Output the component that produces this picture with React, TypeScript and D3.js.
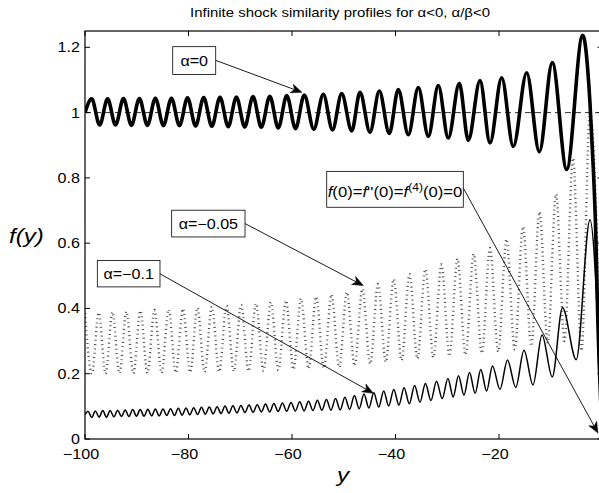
import React from 'react';
import * as d3 from 'd3';

const W = 599;
const H = 493;

const xDomain: [number, number] = [-100, 0];
const yDomain: [number, number] = [0, 1.25];
const xTicks = [-100, -80, -60, -40, -20, 0];
const xTickLabels = ['\u2212100', '\u221280', '\u221260', '\u221240', '\u221220', ''];
const yTicks = [0, 0.2, 0.4, 0.6, 0.8, 1, 1.2];
const yTickLabels = ['0', '0.2', '0.4', '0.6', '0.8', '1', '1.2'];

const titleText = 'Infinite shock similarity profiles for \u03b1<0, \u03b1/\u03b2<0';
const referenceLevel = 1;

// extrema of alpha = 0 (thick solid), [y, f(y)]
const alpha0: [number, number][] = [
  [-100, 1.0],
  [-98.71, 1.042], [-97.17, 0.962],
  [-95.63, 1.042], [-94.10, 0.962],
  [-92.56, 1.043], [-91.03, 0.961],
  [-89.49, 1.043], [-87.95, 0.961],
  [-86.40, 1.044], [-84.85, 0.960],
  [-83.30, 1.044], [-81.75, 0.960],
  [-80.19, 1.045], [-78.63, 0.959],
  [-77.06, 1.046], [-75.49, 0.958],
  [-73.91, 1.047], [-72.33, 0.957],
  [-70.74, 1.048], [-69.14, 0.956],
  [-67.54, 1.049], [-65.92, 0.955],
  [-64.29, 1.050], [-62.65, 0.953],
  [-61.01, 1.052], [-59.32, 0.951],
  [-57.62, 1.054], [-55.79, 0.949],
  [-53.95, 1.056], [-52.18, 0.947],
  [-50.40, 1.058], [-48.46, 0.944],
  [-46.86, 1.062], [-44.93, 0.940],
  [-43.13, 1.066], [-41.20, 0.936],
  [-39.46, 1.071], [-37.53, 0.932],
  [-35.59, 1.077], [-33.66, 0.927],
  [-31.73, 1.083], [-29.80, 0.922],
  [-27.67, 1.090], [-25.93, 0.915],
  [-23.67, 1.098], [-21.74, 0.907],
  [-19.48, 1.107], [-17.24, 0.896],
  [-14.65, 1.122], [-12.21, 0.880],
  [-9.70, 1.153], [-6.92, 0.826],
  [-3.83, 1.237],
  [-2.42, 1.03], [-1.78, 0.83], [-1.32, 0.64], [-0.9, 0.36], [0, 0],
];

// extrema of alpha = -0.05 (dotted)
const alpha005: [number, number][] = [
  [-100, 0.386],
  [-98.68, 0.200],
  [-97.35, 0.387], [-96.02, 0.200],
  [-94.69, 0.389], [-93.35, 0.201],
  [-92.00, 0.391], [-90.65, 0.201],
  [-89.29, 0.393], [-87.93, 0.202],
  [-86.57, 0.395], [-85.20, 0.202],
  [-83.83, 0.397], [-82.45, 0.203],
  [-81.06, 0.399], [-79.67, 0.204],
  [-78.28, 0.402], [-76.88, 0.205],
  [-75.48, 0.405], [-74.07, 0.206],
  [-72.66, 0.408], [-71.24, 0.207],
  [-69.82, 0.411], [-68.39, 0.208],
  [-66.96, 0.415], [-65.52, 0.209],
  [-64.08, 0.419], [-62.63, 0.211],
  [-61.18, 0.424], [-59.72, 0.213],
  [-58.26, 0.430], [-56.79, 0.215],
  [-55.32, 0.436], [-53.85, 0.217],
  [-52.37, 0.443], [-50.88, 0.220],
  [-49.39, 0.450], [-47.90, 0.224],
  [-46.40, 0.460], [-44.89, 0.230],
  [-43.38, 0.475], [-41.87, 0.236],
  [-40.35, 0.490], [-38.82, 0.241],
  [-37.29, 0.505], [-35.76, 0.246],
  [-34.22, 0.520], [-32.68, 0.250],
  [-31.13, 0.535], [-29.58, 0.254],
  [-28.02, 0.552], [-26.46, 0.258],
  [-24.89, 0.567], [-23.32, 0.263],
  [-21.74, 0.585], [-20.15, 0.268],
  [-18.55, 0.612], [-16.96, 0.275],
  [-15.36, 0.650], [-13.77, 0.285],
  [-12.17, 0.695], [-10.58, 0.295],
  [-8.99, 0.750], [-7.35, 0.300],
  [-5.70, 0.860], [-4.06, 0.270],
  [-2.42, 1.000],
  [0, 0],
];

// extrema of alpha = -0.1 (thin solid)
const alpha01: [number, number][] = [
  [-100, 0.075],
  [-99.42, 0.085], [-98.71, 0.066],
  [-97.99, 0.086], [-97.28, 0.067],
  [-96.56, 0.087], [-95.85, 0.067],
  [-95.13, 0.087], [-94.41, 0.068],
  [-93.68, 0.088], [-92.96, 0.069],
  [-92.23, 0.089], [-91.51, 0.069],
  [-90.78, 0.090], [-90.06, 0.070],
  [-89.33, 0.090], [-88.60, 0.070],
  [-87.86, 0.091], [-87.13, 0.071],
  [-86.40, 0.092], [-85.67, 0.071],
  [-84.93, 0.092], [-84.20, 0.072],
  [-83.46, 0.093], [-82.72, 0.072],
  [-81.97, 0.094], [-81.23, 0.073],
  [-80.48, 0.095], [-79.74, 0.074],
  [-79.00, 0.096], [-78.25, 0.075],
  [-77.49, 0.097], [-76.74, 0.076],
  [-75.98, 0.098], [-75.23, 0.077],
  [-74.47, 0.099], [-73.71, 0.078],
  [-72.95, 0.101], [-72.19, 0.079],
  [-71.42, 0.102], [-70.65, 0.080],
  [-69.87, 0.103], [-69.09, 0.081],
  [-68.31, 0.104], [-67.52, 0.082],
  [-66.72, 0.105], [-65.92, 0.083],
  [-65.12, 0.107], [-64.31, 0.083],
  [-63.50, 0.109], [-62.68, 0.084],
  [-61.85, 0.110], [-61.02, 0.085],
  [-60.19, 0.112], [-59.35, 0.086],
  [-58.51, 0.114], [-57.66, 0.086],
  [-56.81, 0.116], [-55.95, 0.087],
  [-55.09, 0.119], [-54.22, 0.088],
  [-53.35, 0.121], [-52.47, 0.088],
  [-51.59, 0.124], [-50.69, 0.089],
  [-49.78, 0.128], [-48.86, 0.091],
  [-47.94, 0.133], [-47.02, 0.093],
  [-46.09, 0.138], [-45.14, 0.095],
  [-44.19, 0.142], [-43.24, 0.098],
  [-42.28, 0.147], [-41.31, 0.101],
  [-40.33, 0.152], [-39.34, 0.104],
  [-38.34, 0.157], [-37.33, 0.108],
  [-36.31, 0.164], [-35.27, 0.113],
  [-34.22, 0.170], [-33.15, 0.118],
  [-32.08, 0.177], [-30.98, 0.124],
  [-29.87, 0.185], [-28.85, 0.129],
  [-27.83, 0.194], [-26.77, 0.134],
  [-25.70, 0.204], [-24.61, 0.140],
  [-23.52, 0.213], [-22.39, 0.147],
  [-21.26, 0.224], [-19.81, 0.152],
  [-18.36, 0.242], [-16.77, 0.158],
  [-15.17, 0.272], [-13.43, 0.166],
  [-11.69, 0.319], [-9.71, 0.190],
  [-7.73, 0.402], [-5.08, 0.243],
  [-2.42, 0.672],
  [0, 0],
];

// annotation boxes (data coords): [yLeft, yRight, fBottom, fTop]
const labelTexts = ['\u03b1=0', '\u03b1=\u22120.05', '\u03b1=\u22120.1'];
const labelBoxes: [number, number, number, number][] = [
  [-83.05, -74.74, 1.117, 1.202],
  [-83.25, -69.08, 0.619, 0.701],
  [-97.62, -85.51, 0.466, 0.547],
];
// arrows (data coords): [yStart, fStart, yEnd, fEnd]
const labelArrows: [number, number, number, number][] = [
  [-74.74, 1.160, -58.07, 1.062],
  [-69.08, 0.660, -46.22, 0.470],
  [-85.51, 0.506, -44.29, 0.140],
];
const condBox: [number, number, number, number] = [-53.29, -26.90, 0.710, 0.820];
const condArrow: [number, number, number, number] = [-26.90, 0.769, -0.87, 0.018];

const FONT = '"Liberation Sans", Arial, Helvetica, sans-serif';
const SX = 1.15;

function STxt(props: {
  x: number; y: number; size: number; anchor?: string; italic?: boolean; children: React.ReactNode;
}) {
  const { x, y, size, anchor, italic, children } = props;
  return (
    <text
      transform={`translate(${x},${y}) scale(${SX},1)`}
      textAnchor={anchor || 'start'}
      fontSize={size}
      fontFamily={FONT}
      fontStyle={italic ? 'italic' : 'normal'}
      fill="#000"
    >
      {children}
    </text>
  );
}

function Arrow(props: { x1: number; y1: number; x2: number; y2: number }) {
  const { x1, y1, x2, y2 } = props;
  const dx = x2 - x1;
  const dy = y2 - y1;
  const len = Math.sqrt(dx * dx + dy * dy);
  const ux = dx / len;
  const uy = dy / len;
  const nx = -uy;
  const ny = ux;
  const L = 11;
  const w = 4.5;
  const bx = x2 - L * ux;
  const by = y2 - L * uy;
  const mx = x2 - 0.72 * L * ux;
  const my = y2 - 0.72 * L * uy;
  const head = `M${x2},${y2}L${bx + w * nx},${by + w * ny}L${mx},${my}L${bx - w * nx},${by - w * ny}Z`;
  return (
    <g>
      <line x1={x1} y1={y1} x2={mx} y2={my} stroke="#000" strokeWidth={0.9} />
      <path d={head} fill="#000" stroke="#000" strokeWidth={0.5} />
    </g>
  );
}

export default function App() {
  const left = 85;
  const right = 602.5;
  const top = 31;
  const bottom = 439;
  const x = d3.scaleLinear().domain(xDomain).range([left, right]);
  const y = d3.scaleLinear().domain(yDomain).range([bottom, top]);

  const line = d3
    .line<[number, number]>()
    .x((d) => x(d[0]))
    .y((d) => y(d[1]))
    .curve(d3.curveMonotoneX);

  const tickLen = 5;

  return (
    <svg
      width={W}
      height={H}
      viewBox={`0 0 ${W} ${H}`}
      style={{ position: 'absolute', left: 0, top: 0, background: '#fff' }}
    >
      <rect x={0} y={0} width={W} height={H} fill="#fff" />
      <defs>
        <clipPath id="plotclip">
          <rect x={left} y={top} width={right - left} height={bottom - top} />
        </clipPath>
      </defs>

      <STxt x={340} y={17} size={13} anchor="middle">{titleText}</STxt>

      <g clipPath="url(#plotclip)">
        <line
          x1={x(xDomain[0])}
          x2={x(xDomain[1])}
          y1={y(referenceLevel)}
          y2={y(referenceLevel)}
          stroke="#000"
          strokeWidth={0.8}
          strokeDasharray="6 4"
        />
        <path
          d={line(alpha005) || ''}
          fill="none"
          stroke="#444"
          strokeWidth={2.4}
          strokeDasharray="0.9 3.4"
        />
        <path d={line(alpha01) || ''} fill="none" stroke="#000" strokeWidth={1.5} />
        <path d={line(alpha0) || ''} fill="none" stroke="#000" strokeWidth={3.6} />
      </g>

      {/* axes box */}
      <rect x={left} y={top} width={right - left} height={bottom - top} fill="none" stroke="#000" strokeWidth={1.2} />

      {/* x ticks */}
      {xTicks.map((t, i) => (
        <g key={'xt' + i}>
          <line x1={x(t)} x2={x(t)} y1={bottom} y2={bottom - tickLen} stroke="#000" strokeWidth={1} />
          <line x1={x(t)} x2={x(t)} y1={top} y2={top + tickLen} stroke="#000" strokeWidth={1} />
          {xTickLabels[i] ? (
            <STxt x={x(t) - 4} y={459} size={14} anchor="middle">{xTickLabels[i]}</STxt>
          ) : null}
        </g>
      ))}

      {/* y ticks */}
      {yTicks.map((t, i) => (
        <g key={'yt' + i}>
          <line x1={left} x2={left + tickLen} y1={y(t)} y2={y(t)} stroke="#000" strokeWidth={1} />
          <line x1={right} x2={right - tickLen} y1={y(t)} y2={y(t)} stroke="#000" strokeWidth={1} />
          <STxt x={80} y={y(t) + 5} size={14} anchor="end">{yTickLabels[i]}</STxt>
        </g>
      ))}

      {/* axis labels */}
      <STxt x={9} y={243} size={21} italic>f(y)</STxt>
      <STxt x={343} y={482} size={21} anchor="middle" italic>y</STxt>

      {/* arrows */}
      {labelArrows.map((a, i) => (
        <Arrow key={'ar' + i} x1={x(a[0])} y1={y(a[1])} x2={x(a[2])} y2={y(a[3])} />
      ))}
      <Arrow x1={x(condArrow[0])} y1={y(condArrow[1])} x2={x(condArrow[2])} y2={y(condArrow[3])} />

      {/* label boxes */}
      {labelBoxes.map((b, i) => {
        const bx0 = x(b[0]);
        const bx1 = x(b[1]);
        const by0 = y(b[3]);
        const by1 = y(b[2]);
        return (
          <g key={'lb' + i}>
            <rect x={bx0} y={by0} width={bx1 - bx0} height={by1 - by0} fill="#fff" stroke="#000" strokeWidth={0.8} />
            <STxt x={(bx0 + bx1) / 2} y={(by0 + by1) / 2 + 5} size={14} anchor="middle">{labelTexts[i]}</STxt>
          </g>
        );
      })}

      {(() => {
        const bx0 = x(condBox[0]);
        const bx1 = x(condBox[1]);
        const by0 = y(condBox[3]);
        const by1 = y(condBox[2]);
        return (
          <g>
            <rect x={bx0} y={by0} width={bx1 - bx0} height={by1 - by0} fill="#fff" stroke="#000" strokeWidth={0.8} />
            <text
              transform={`translate(${bx0 + 1},${by1 - 10}) scale(${SX},1)`}
              fontSize={14.5}
              fontFamily={FONT}
              fill="#000"
            >
              <tspan fontStyle="italic">f</tspan>
              <tspan>(0)=</tspan>
              <tspan fontStyle="italic">f</tspan>
              <tspan>''(0)=</tspan>
              <tspan fontStyle="italic">f</tspan>
              <tspan dy={-6} fontSize={10.5}>(4)</tspan>
              <tspan dy={6}>(0)=0</tspan>
            </text>
          </g>
        );
      })()}
    </svg>
  );
}
